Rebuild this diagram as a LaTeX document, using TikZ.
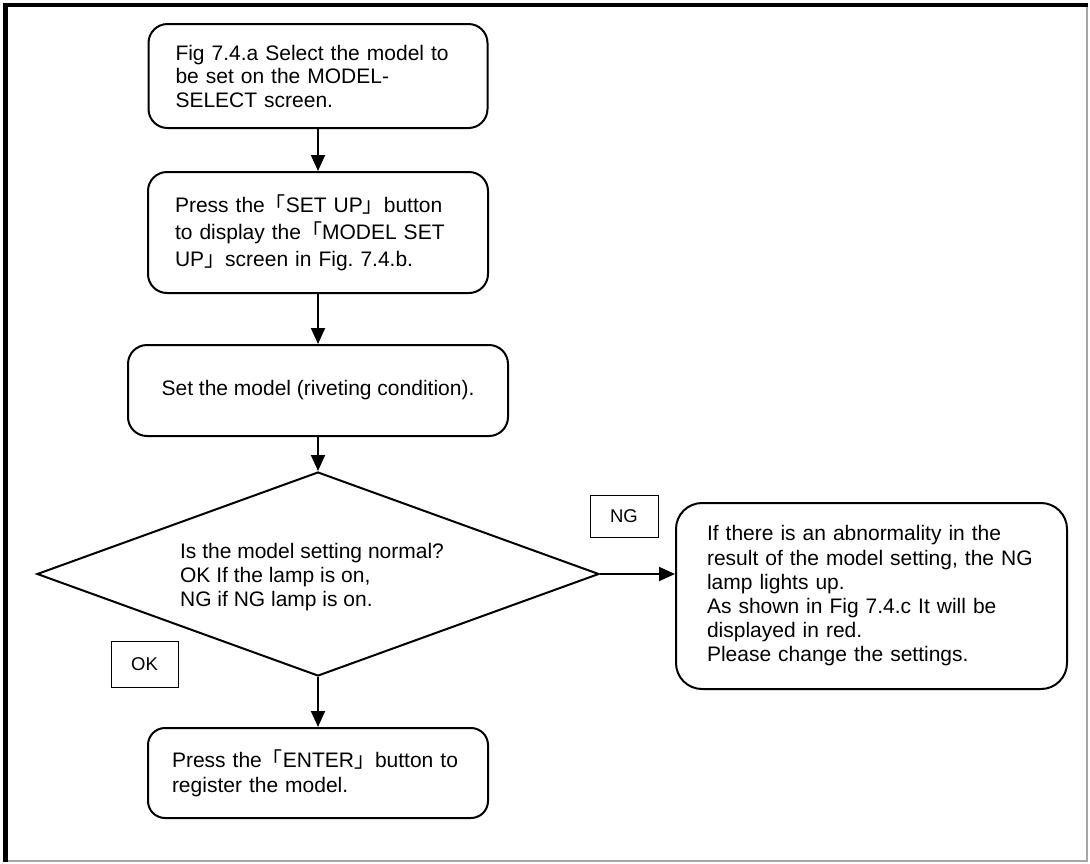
\documentclass[tikz,border=0pt]{standalone}
\usepackage{fontspec}
\setmainfont{Liberation Sans}
\newfontfamily\cjk{Noto Sans CJK JP}
\usetikzlibrary{shapes.geometric,arrows.meta}
\newcommand{\lbr}{{\cjk 「}}
\newcommand{\rbr}{{\cjk 」}}
\frenchspacing
\begin{document}
\begin{tikzpicture}[x=1pt,y=-1pt,
  stepbox/.style={draw, line width=2pt, rounded corners=19pt, inner sep=0pt, align=left},
  tagbox/.style={draw, line width=0.9pt, inner sep=0pt, font=\fontsize{18.5}{22}\selectfont},
  flow/.style={line width=2pt, -{Triangle[length=16pt,width=14pt]}}]
\useasboundingbox (0,0) rectangle (1090,863);
% page frame: heavy top/left edge, light right/bottom edge
\draw[gray!70, line width=1.2pt] (1087,5) -- (1087,861) -- (5,861);
\draw[black, line width=4.5pt] (5.5,862) -- (5.5,5) -- (1088,5);

% process boxes
\node[stepbox, minimum width=339pt, minimum height=104pt, text width=285pt,
      font=\fontsize{21}{23.5}\selectfont] (b1) at (318,76)
  {Fig 7.4.a Select the model to\\be set on the MODEL-\\SELECT screen.};
\node[stepbox, minimum width=340pt, minimum height=121pt, text width=286pt,
      font=\fontsize{21}{27}\selectfont] (b2) at (318,232.5)
  {Press the\lbr SET UP\rbr button\\to display the\lbr MODEL SET\\UP\rbr screen in Fig. 7.4.b.};
\node[stepbox, align=center, minimum width=380pt, minimum height=91pt,
      font=\fontsize{21}{24}\selectfont] (b3) at (318,390.5)
  {Set the model (riveting condition).};

% decision
\node[diamond, draw, line width=2pt, inner sep=0pt, minimum width=562pt,
      minimum height=204pt] (dec) at (318,574) {};
\node[align=left, inner sep=0pt, font=\fontsize{21}{24}\selectfont] (dectext) at (312,577)
  {Is the model setting normal?\\OK If the lamp is on,\\NG if NG lamp is on.};

% NG branch
\node[stepbox, rounded corners=26pt, minimum width=391pt, minimum height=186pt,
      text width=329pt, font=\fontsize{21}{24.2}\selectfont] (ng) at (871.5,596)
  {If there is an abnormality in the\\result of the model setting, the NG\\lamp lights up.\\As shown in Fig 7.4.c It will be\\displayed in red.\\Please change the settings.};
\node[tagbox, minimum width=68pt, minimum height=42pt] (ngtag) at (624,516) {NG};

% OK branch
\node[tagbox, minimum width=67pt, minimum height=46pt] (oktag) at (144.5,664) {OK};
\node[stepbox, rounded corners=17pt, minimum width=340pt, minimum height=90pt, text width=292pt,
      font=\fontsize{21}{25}\selectfont] (b5) at (318,773)
  {Press the\lbr ENTER\rbr button to\\register the model.};

% connectors
\draw[flow] (b1.south) -- (b2.north);
\draw[flow] (b2.south) -- (b3.north);
\draw[flow] (b3.south) -- (dec.north);
\draw[flow] (dec.east) -- (dec.east -| ng.west);
\draw[flow] (dec.south) -- (b5.north);
\end{tikzpicture}
\end{document}
